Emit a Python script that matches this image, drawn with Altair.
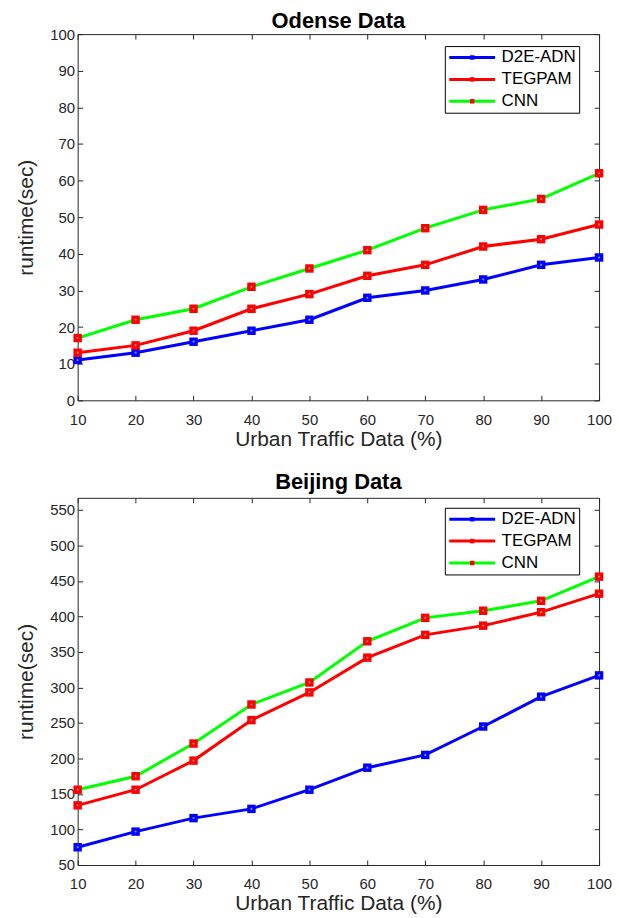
import altair as alt
import pandas as pd

# ---------------- data ----------------
x_vals = [10, 20, 30, 40, 50, 60, 70, 80, 90, 100]
series_names = ["D2E-ADN", "TEGPAM", "CNN"]
line_colors = ["#0000ff", "#ff0000", "#00ff00"]
marker_colors = ["#0000ff", "#ff0000", "#ff0000"]

odense_d2e = [11, 13, 16, 19, 22, 28, 30, 33, 37, 39]
odense_tegpam = [13, 15, 19, 25, 29, 34, 37, 42, 44, 48]
odense_cnn = [17, 22, 25, 31, 36, 41, 47, 52, 55, 62]

beijing_d2e = [75, 97, 116, 129, 156, 187, 205, 245, 287, 317]
beijing_tegpam = [134, 156, 197, 254, 293, 342, 374, 387, 406, 432]
beijing_cnn = [156, 175, 221, 276, 307, 365, 398, 408, 422, 456]

y_ticks_odense = [0, 10, 20, 30, 40, 50, 60, 70, 80, 90, 100]
y_ticks_beijing = [50, 100, 150, 200, 250, 300, 350, 400, 450, 500, 550]

FONT = "Liberation Sans"
AX = "#262626"
W = 524


def panel(title, d2e, teg, cnn, ydom, yticks, legend_y, height, title_offset):
    rows = []
    for name, vals in zip(series_names, [d2e, teg, cnn]):
        for xv, yv in zip(x_vals, vals):
            rows.append({"x": xv, "y": yv, "series": name, "series_m": name})
    df = pd.DataFrame(rows)

    xs = alt.Scale(domain=[10, 100], nice=False, zero=False)
    ys = alt.Scale(domain=ydom, nice=False, zero=False)

    common_axis = dict(
        labelFont=FONT, labelFontSize=15, labelColor=AX,
        titleFont=FONT, titleFontSize=21, titleFontWeight="normal", titleColor=AX,
        domainColor=AX, tickColor=AX, tickSize={"expr": "-5"},
        grid=False, labelFlush=False, labelOverlap=False, format="d",
    )
    xaxis = alt.Axis(values=x_vals, title="Urban Traffic Data (%)",
                     labelPadding=17, titlePadding=1, **common_axis)
    yaxis = alt.Axis(values=yticks, title="runtime(sec)",
                     labelPadding=8, titlePadding=13, **common_axis)
    top_axis = alt.Axis(orient="top", values=x_vals, labels=False, title=None,
                        domainColor=AX, tickColor=AX, tickSize={"expr": "-5"}, grid=False)
    right_axis = alt.Axis(orient="right", values=yticks, labels=False, title=None,
                          domainColor=AX, tickColor=AX, tickSize={"expr": "-5"}, grid=False)

    leg_common = dict(
        orient="none", legendX=369, legendY=legend_y, title=None,
        labelFont=FONT, labelFontSize=17, labelColor="black",
        symbolSize=100, padding=3, rowPadding=4,
        symbolOffset=16, labelOffset=21, symbolStrokeWidth=3,
    )
    leg_lines = alt.Legend(symbolType="M-4.6,0H4.6", strokeColor="black",
                           fillColor="white", **leg_common)
    leg_marks = alt.Legend(symbolType="M-0.45,-0.45H0.45V0.45H-0.45Z", labelExpr="''",
                           symbolStrokeColor="transparent", **leg_common)

    base = alt.Chart(df)
    lines = base.mark_line(strokeWidth=3).encode(
        alt.X("x:Q", scale=xs, axis=xaxis),
        alt.Y("y:Q", scale=ys, axis=yaxis),
        stroke=alt.Stroke("series:N", sort=series_names,
                          scale=alt.Scale(domain=series_names, range=line_colors),
                          legend=leg_lines),
    )
    marks = base.mark_point(shape="square", filled=True, size=72, opacity=1).encode(
        alt.X("x:Q", scale=xs, axis=None),
        alt.Y("y:Q", scale=ys, axis=None),
        fill=alt.Fill("series_m:N", sort=series_names,
                      scale=alt.Scale(domain=series_names, range=marker_colors),
                      legend=leg_marks),
    )
    dots = base.mark_point(shape="circle", filled=True, size=5, opacity=1,
                           color="#8c8c8c").encode(
        alt.X("x:Q", scale=xs, axis=None),
        alt.Y("y:Q", scale=ys, axis=None),
    )
    frame = base.mark_point(opacity=0).encode(
        alt.X("x:Q", scale=xs, axis=top_axis),
        alt.Y("y:Q", scale=ys, axis=right_axis),
    )
    return alt.layer(lines, marks, dots, frame).properties(
        width=W, height=height,
        title=alt.TitleParams(title, font=FONT, fontSize=22, fontWeight="bold",
                              color="black", offset=title_offset),
    ).resolve_scale(stroke="independent", fill="independent").resolve_axis(
        x="independent", y="independent")


top = panel("Odense Data", odense_d2e, odense_tegpam, odense_cnn,
            [0, 100], y_ticks_odense, 12, 368, -6)
bottom = panel("Beijing Data", beijing_d2e, beijing_tegpam, beijing_cnn,
               [50, 567], y_ticks_beijing, 10, 369, 3)

chart = alt.vconcat(top, bottom, spacing=22).properties(
    padding={"left": 7, "top": 0, "right": 0, "bottom": 0},
    background="white",
).configure_view(stroke=None)

chart.save("out.html", embed_options={"renderer": "svg", "actions": False})
